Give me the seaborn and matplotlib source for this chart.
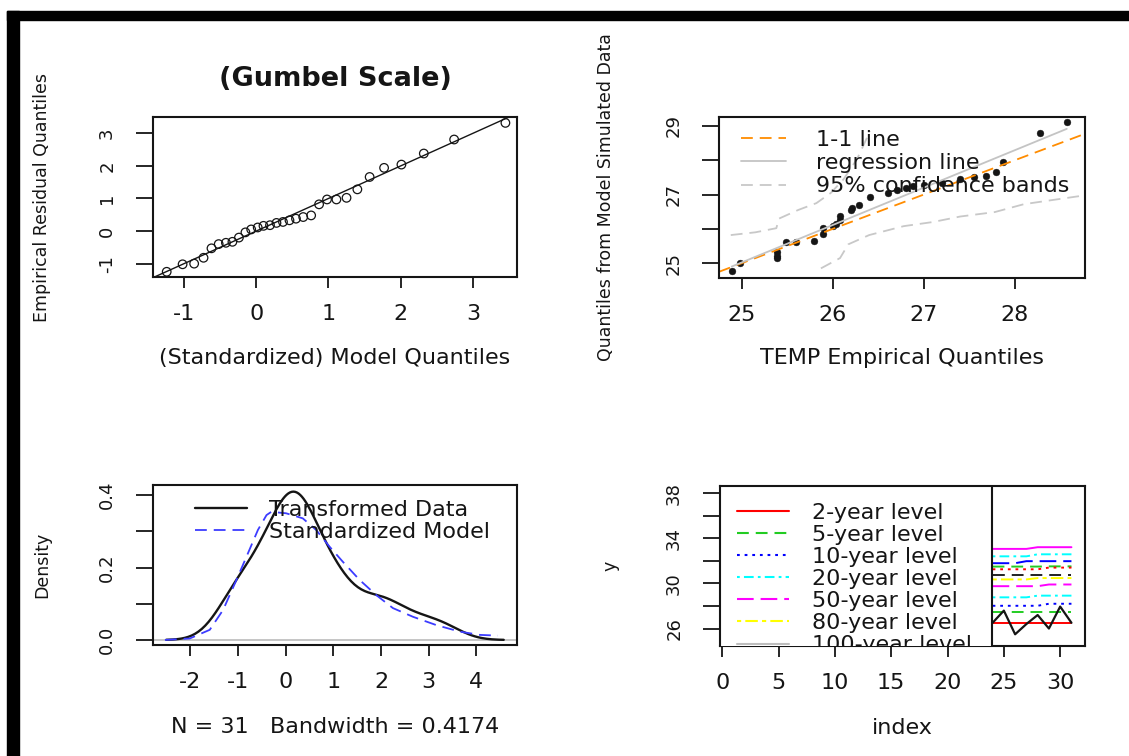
import numpy as np
import matplotlib
matplotlib.use("Agg")
import matplotlib.pyplot as plt
import seaborn as sns
from matplotlib.lines import Line2D
from matplotlib.patches import Rectangle

# ---------------- data ----------------
# (Gumbel Scale) QQ plot: standardized model quantiles vs empirical residual quantiles
model_q = [-1.24, -1.02, -0.86, -0.73, -0.62, -0.52, -0.42, -0.33, -0.24, -0.15, -0.07,
           0.02, 0.10, 0.19, 0.28, 0.37, 0.46, 0.55, 0.65, 0.76, 0.87, 0.98, 1.11, 1.25,
           1.40, 1.57, 1.77, 2.01, 2.32, 2.74, 3.45]
resid_q = [-1.25, -1.02, -1.00, -0.82, -0.53, -0.40, -0.36, -0.33, -0.20, -0.04, 0.05,
           0.11, 0.16, 0.18, 0.25, 0.28, 0.33, 0.38, 0.43, 0.48, 0.82, 0.97, 0.97, 1.02,
           1.28, 1.66, 1.94, 2.04, 2.38, 2.81, 3.32]

# TEMP empirical quantiles vs quantiles from model simulated data
temp_q = [24.89, 24.98, 25.39, 25.39, 25.39, 25.49, 25.60, 25.79, 25.89, 25.89, 26.00,
          26.04, 26.08, 26.08, 26.20, 26.21, 26.29, 26.41, 26.61, 26.71, 26.80, 26.88,
          27.00, 27.20, 27.40, 27.55, 27.68, 27.79, 27.87, 28.28, 28.57]
sim_q = [24.78, 25.00, 25.15, 25.22, 25.34, 25.61, 25.63, 25.66, 25.85, 26.02, 26.07,
         26.15, 26.26, 26.38, 26.55, 26.60, 26.70, 26.92, 27.04, 27.12, 27.20, 27.25,
         27.28, 27.34, 27.46, 27.50, 27.55, 27.65, 27.96, 28.79, 29.10]
band_hi_x = [24.88, 25.15, 25.38, 25.41, 25.62, 25.82, 25.98, 26.12, 26.27, 26.41]
band_hi_y = [25.82, 25.90, 26.02, 26.30, 26.55, 26.75, 27.05, 27.45, 28.05, 28.85]
band_lo_x = [25.87, 26.08, 26.17, 26.40, 26.78, 27.10, 27.40, 27.78, 28.10, 28.75]
band_lo_y = [24.85, 25.15, 25.55, 25.82, 26.08, 26.20, 26.36, 26.49, 26.72, 26.97]

# density of the transformed data vs standardized model
bandwidth = 0.4174
model_dens_x = [-2.53, -2.01, -1.59, -1.31, -1.03, -0.82, -0.58, -0.40, -0.30, 0.01, 0.36,
                0.64, 0.92, 1.20, 1.55, 1.90, 2.25, 2.67, 3.16, 3.65, 4.07, 4.45]
model_dens_y = [0.000, 0.004, 0.028, 0.083, 0.166, 0.230, 0.304, 0.345, 0.354, 0.350, 0.336,
                0.304, 0.258, 0.216, 0.166, 0.124, 0.088, 0.064, 0.041, 0.023, 0.014, 0.012]

# effective return levels by index
rl_index = [24, 25, 26, 27, 28, 29, 30, 31]
temp_obs = [26.51, 27.59, 25.49, 26.40, 27.20, 26.00, 27.95, 26.51]
rl_magenta_solid = [33.07, 33.07, 33.07, 33.07, 33.22, 33.22, 33.22, 33.22]
rl_cyan_upper = [32.41, 32.41, 32.41, 32.41, 32.59, 32.59, 32.59, 32.59]
rl_blue_dashed = [31.80, 31.80, 31.80, 31.98, 31.98, 31.98, 31.98, 31.98]
rl_green_upper = [31.50, 31.50, 31.50, 31.50, 31.50, 31.52, 31.52, 31.52]
rl_red_dotted = [31.26, 31.26, 31.26, 31.26, 31.26, 31.41, 31.41, 31.41]
rl_black_dashed = [30.75, 30.75, 30.75, 30.75, 30.75, 30.75, 30.75, 30.75]
rl_80yr = [30.36, 30.36, 30.36, 30.36, 30.48, 30.48, 30.48, 30.48]
rl_50yr = [29.76, 29.76, 29.76, 29.76, 29.76, 29.91, 29.91, 29.91]
rl_20yr = [28.77, 28.77, 28.77, 28.77, 28.92, 28.92, 28.92, 28.92]
rl_10yr = [28.02, 28.02, 28.02, 28.02, 28.02, 28.20, 28.20, 28.20]
rl_5yr = [27.44, 27.44, 27.44, 27.44, 27.44, 27.44, 27.44, 27.44]
rl_2yr = [26.51, 26.51, 26.51, 26.51, 26.51, 26.51, 26.51, 26.51]
level_labels = ["2-year level", "5-year level", "10-year level", "20-year level",
                "50-year level", "80-year level", "100-year level"]

# ---------------- style ----------------
sns.set_theme(style="ticks")
plt.rcParams["font.family"] = ["DejaVu Sans"]
plt.rcParams["lines.scale_dashes"] = False
plt.rcParams["axes.unicode_minus"] = False
HSIZE = 16      # horizontal text
VSIZE = 12.5    # rotated text
INK = "#151515"

LS_DASHED = (0, (8.5, 5))
LS_DOTTED = (0, (2, 3.5))
LS_DOTDASH = (0, (2, 3, 7, 3))
LS_LONGDASH = (0, (12, 5))
LS_TWODASH = (0, (3, 3, 9, 3))

fig = plt.figure(figsize=(11.29, 7.56), dpi=100)
fig.patch.set_facecolor("white")

ax1 = fig.add_axes([0.1355, 0.6336, 0.3224, 0.2116])
ax2 = fig.add_axes([0.6368, 0.6323, 0.3242, 0.2130])
ax3 = fig.add_axes([0.1355, 0.1468, 0.3224, 0.2116])
ax4 = fig.add_axes([0.6377, 0.1455, 0.3233, 0.2116])


def frame(ax):
    ax.set_facecolor("white")
    ax.grid(False)
    for s in ax.spines.values():
        s.set_visible(True)
        s.set_linewidth(1.5)
        s.set_color(INK)
    ax.tick_params(axis="x", direction="out", length=8, width=1.3, pad=11.5,
                   labelsize=HSIZE, colors=INK)
    ax.tick_params(axis="y", direction="out", length=12.5, width=1.3, pad=14,
                   labelsize=VSIZE + 0.5, colors=INK, labelrotation=90)
    for t in ax.get_yticklabels():
        t.set_verticalalignment("center")


def labels(ax, xlabel, ylabel, xl_y, yl_x):
    ax.set_xlabel(xlabel, fontsize=HSIZE, color=INK)
    ax.set_ylabel(ylabel, fontsize=VSIZE, color=INK)
    ax.xaxis.set_label_coords(0.5, xl_y)
    ax.yaxis.set_label_coords(yl_x, 0.5)
    ax.xaxis.label.set_verticalalignment("center")
    ax.yaxis.label.set_verticalalignment("center")


# ---- panel 1: residual QQ plot on the Gumbel scale ----
sns.scatterplot(x=model_q, y=resid_q, ax=ax1, marker="o", s=38,
                facecolor="none", edgecolor=INK, linewidth=0.9)
ax1.axline((0, 0), slope=1, color=INK, lw=1.0)
ax1.set_xlim(-1.43, 3.61)
ax1.set_ylim(-1.41, 3.50)
ax1.set_xticks([-1, 0, 1, 2, 3])
ax1.set_yticks([-1, 0, 1, 2, 3])
frame(ax1)
labels(ax1, "(Standardized) Model Quantiles", "Empirical Residual Quantiles", -0.506, -0.305)
ax1.set_title("(Gumbel Scale)", fontsize=19.5, fontweight="bold", color=INK,
              y=1.1875, va="center")

# ---- panel 2: empirical vs simulated quantiles ----
ax2.axline((25, 25), slope=1, color="darkorange", lw=1.3, ls=LS_DASHED, label="1-1 line")
slope, intercept = np.polyfit(temp_q, sim_q, 1)
reg_x = np.array([min(temp_q), max(temp_q)])
sns.lineplot(x=reg_x, y=intercept + slope * reg_x, ax=ax2, color="#c4c4c4", lw=1.3,
             label="regression line")
sns.lineplot(x=band_hi_x, y=band_hi_y, ax=ax2, color="#c8c8c8", lw=1.3, ls=LS_DASHED,
             sort=False, estimator=None, label="95% confidence bands")
sns.lineplot(x=band_lo_x, y=band_lo_y, ax=ax2, color="#c8c8c8", lw=1.3, ls=LS_DASHED,
             sort=False, estimator=None)
sns.scatterplot(x=temp_q, y=sim_q, ax=ax2, s=24, color=INK, edgecolor=INK, linewidth=0.3)
ax2.set_xlim(24.75, 28.77)
ax2.set_ylim(24.57, 29.26)
ax2.set_xticks([25, 26, 27, 28])
ax2.set_yticks([25, 26, 27, 28, 29])
ax2.set_yticklabels(["25", "", "27", "", "29"])
frame(ax2)
labels(ax2, "TEMP Empirical Quantiles", "Quantiles from Model Simulated Data", -0.497, -0.309)
ax2.legend(loc="upper left", bbox_to_anchor=(0.061, 0.918), frameon=False, fontsize=HSIZE,
           borderpad=0, borderaxespad=0, handlelength=2.0, handletextpad=1.35,
           labelspacing=0.14, labelcolor=INK)

# ---- panel 3: density comparison ----
ax3.axhline(0, color="#c0c0c0", lw=1.3, zorder=1)
sns.kdeplot(x=resid_q, ax=ax3, bw_method=bandwidth / np.std(resid_q, ddof=1), cut=3,
            color=INK, lw=1.7, label="Transformed Data")
sns.lineplot(x=model_dens_x, y=model_dens_y, ax=ax3, color="#3c3cff", lw=1.3,
             ls=LS_DASHED, label="Standardized Model")
ax3.set_xlim(-2.78, 4.85)
ax3.set_ylim(-0.014, 0.428)
ax3.set_xticks([-2, -1, 0, 1, 2, 3, 4])
ax3.set_yticks([0.0, 0.1, 0.2, 0.3, 0.4])
ax3.set_yticklabels(["0.0", "", "0.2", "", "0.4"])
frame(ax3)
labels(ax3, "N = 31   Bandwidth = 0.4174", "Density", -0.51, -0.305)
ax3.legend(loc="upper left", bbox_to_anchor=(0.115, 0.908), frameon=False, fontsize=HSIZE,
           borderpad=0, borderaxespad=0, handlelength=2.35, handletextpad=1.0,
           labelspacing=0.1, labelcolor=INK)

# ---- panel 4: return levels against index ----
level_lines = [
    (rl_magenta_solid, "magenta", "-"),
    (rl_cyan_upper, "cyan", LS_DOTDASH),
    (rl_blue_dashed, "blue", LS_LONGDASH),
    (rl_green_upper, "#22cc22", LS_DASHED),
    (rl_red_dotted, "red", LS_DOTTED),
    (rl_black_dashed, "#222222", LS_DASHED),
    (rl_80yr, "yellow", LS_TWODASH),
    (rl_50yr, "magenta", LS_LONGDASH),
    (rl_20yr, "cyan", LS_DOTDASH),
    (rl_10yr, "blue", LS_DOTTED),
    (rl_5yr, "#22cc22", LS_DASHED),
    (rl_2yr, "red", "-"),
]
for vals, col, ls in level_lines:
    sns.lineplot(x=rl_index, y=vals, ax=ax4, color=col, ls=ls, lw=1.4, estimator=None)
sns.lineplot(x=rl_index, y=temp_obs, ax=ax4, color=INK, lw=1.6, estimator=None)
ax4.set_xlim(-0.2, 32.2)
ax4.set_ylim(24.45, 38.65)
ax4.set_xticks([0, 5, 10, 15, 20, 25, 30])
ax4.set_yticks([26, 28, 30, 32, 34, 36, 38])
ax4.set_yticklabels(["26", "", "30", "", "34", "", "38"])
frame(ax4)
labels(ax4, "index", "y", -0.51, -0.299)

legend_styles = [("red", "-"), ("#22cc22", LS_DASHED), ("blue", LS_DOTTED),
                 ("cyan", LS_DOTDASH), ("magenta", LS_LONGDASH), ("yellow", LS_TWODASH),
                 ("#bebebe", "-")]
handles = [Line2D([], [], color=c, ls=ls, lw=1.5) for c, ls in legend_styles]
leg = ax4.legend(handles, level_labels, loc="upper left", bbox_to_anchor=(0, 1, 0.7446, 0),
                 mode="expand", borderaxespad=0, frameon=True, fancybox=False,
                 framealpha=1, edgecolor=INK, facecolor="white", fontsize=HSIZE,
                 handlelength=2.35, handletextpad=1.05, labelspacing=0.095, borderpad=0.75,
                 labelcolor=INK)
leg.get_frame().set_linewidth(1.5)
# keep the legend box inside the plotting region
for art in leg.findobj():
    if art is not leg:
        art.set_clip_on(True)
        art.set_clip_box(ax4.bbox)

# heavy black frame along the top and left edges
fig.add_artist(Rectangle((7 / 1129, 0), 12 / 1129, 1 - 11 / 756,
                         transform=fig.transFigure, color="black", zorder=10))
fig.add_artist(Rectangle((7 / 1129, 1 - 20 / 756), 1 - 7 / 1129, 9 / 756,
                         transform=fig.transFigure, color="black", zorder=10))

fig.savefig("out.png", dpi=100, facecolor="white")
